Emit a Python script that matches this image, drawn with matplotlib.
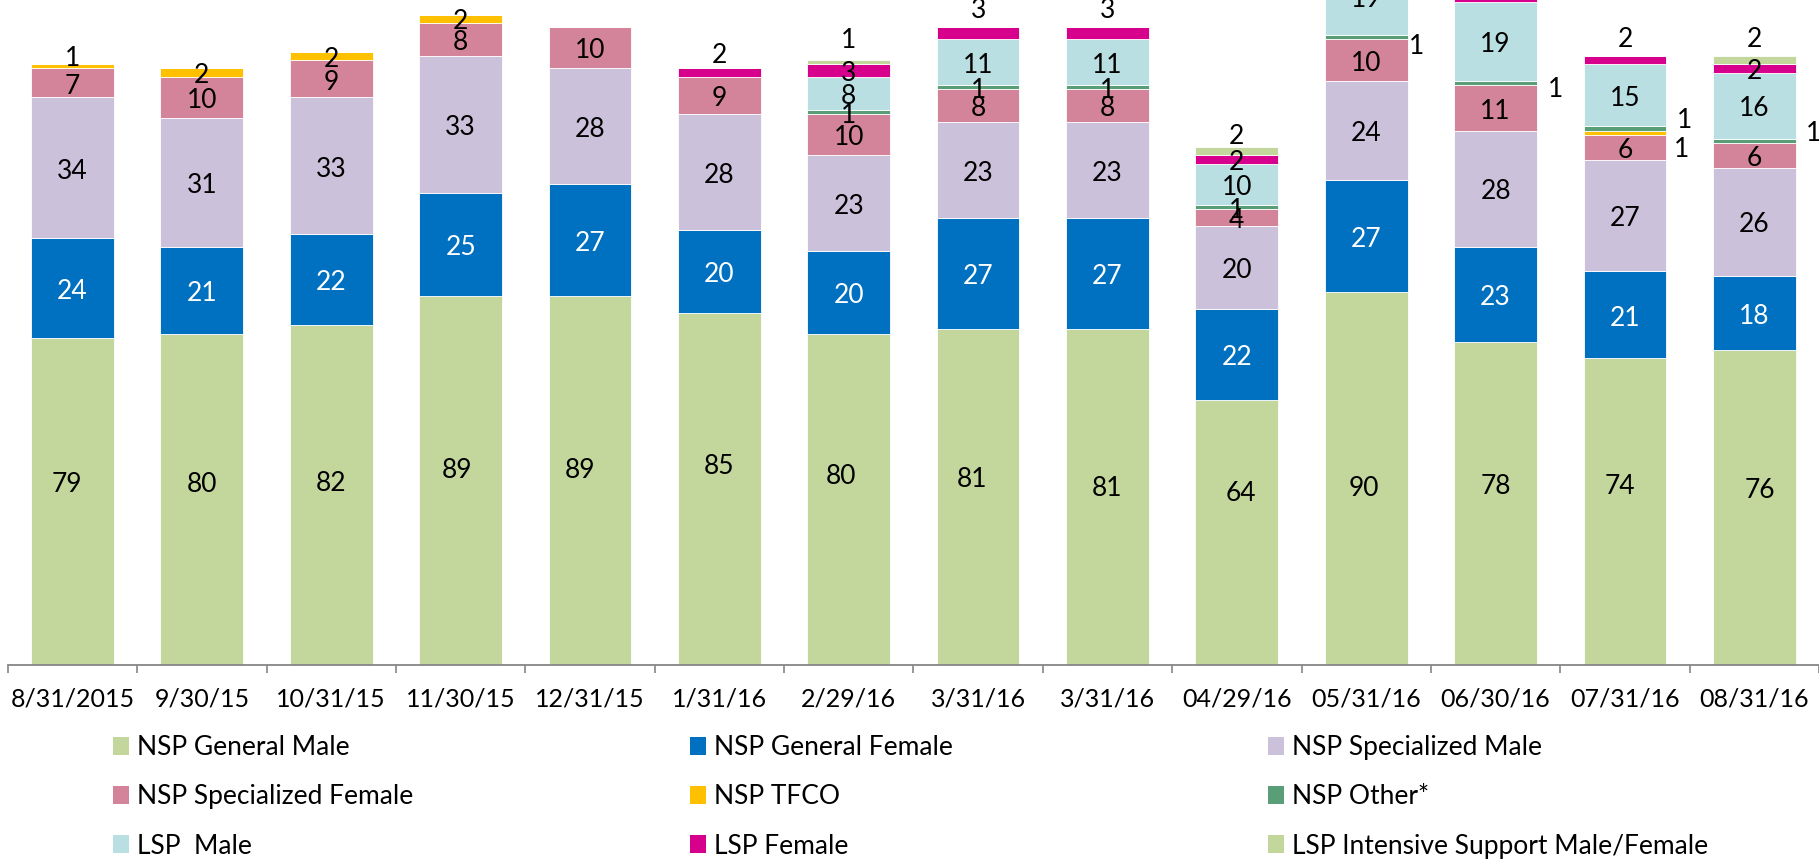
import matplotlib
matplotlib.use("Agg")
import matplotlib.pyplot as plt
from matplotlib.patches import Patch
import numpy as np

plt.rcParams['font.family'] = ['Lato', 'DejaVu Sans']

categories = ["8/31/2015", "9/30/15", "10/31/15", "11/30/15", "12/31/15", "1/31/16", "2/29/16",
              "3/31/16", "3/31/16", "04/29/16", "05/31/16", "06/30/16", "07/31/16", "08/31/16"]
series_names = ["NSP General Male", "NSP General Female", "NSP Specialized Male",
                "NSP Specialized Female", "NSP TFCO", "NSP Other*", "LSP  Male", "LSP Female",
                "LSP Intensive Support Male/Female"]
nsp_general_male = [79, 80, 82, 89, 89, 85, 80, 81, 81, 64, 90, 78, 74, 76]
nsp_general_female = [24, 21, 22, 25, 27, 20, 20, 27, 27, 22, 27, 23, 21, 18]
nsp_specialized_male = [34, 31, 33, 33, 28, 28, 23, 23, 23, 20, 24, 28, 27, 26]
nsp_specialized_female = [7, 10, 9, 8, 10, 9, 10, 8, 8, 4, 10, 11, 6, 6]
nsp_tfco = [1, 2, 2, 2, 0, 0, 0, 0, 0, 0, 0, 0, 1, 0]
nsp_other = [0, 0, 0, 0, 0, 0, 1, 1, 1, 1, 1, 1, 1, 1]
lsp_male = [0, 0, 0, 0, 0, 0, 8, 11, 11, 10, 19, 19, 15, 16]
lsp_female = [0, 0, 0, 0, 0, 2, 3, 3, 3, 2, 3, 3, 2, 2]
lsp_intensive = [0, 0, 0, 0, 0, 0, 1, 0, 0, 2, 0, 0, 0, 2]

series = [nsp_general_male, nsp_general_female, nsp_specialized_male, nsp_specialized_female,
          nsp_tfco, nsp_other, lsp_male, lsp_female, lsp_intensive]
colors = ["#C3D69B", "#0070C0", "#CCC1DA", "#D4849A", "#FFC000", "#5A9E78", "#B9DFE3",
          "#D6008C", "#C3D69B"]
label_colors = ["black", "white"] + ["black"] * 7

# label offsets (series index, category index) -> (dx, dy) in data units
label_offsets = {
    (0, 0): (-0.04, 4.9), (0, 1): (0, 4.4), (0, 2): (0, 3.7), (0, 3): (-0.03, 3.2),
    (0, 4): (-0.08, 3.2), (0, 5): (0, 6.2), (0, 6): (-0.06, 6.3), (0, 7): (-0.05, 5.0),
    (0, 8): (0, 3.0), (0, 9): (0.03, 10.3), (0, 10): (-0.02, -1.7), (0, 11): (0, 4.9),
    (0, 12): (-0.04, 6.9), (0, 13): (0.04, 4.8),
    (4, 0): (0, 2.6), (7, 5): (0, 5.0), (8, 6): (0, 6.0), (7, 7): (0, 6.3),
    (7, 8): (0, 6.3), (8, 9): (0, 4.3), (5, 10): (0.39, -1.4), (7, 10): (0, 6.0),
    (5, 11): (0.46, -0.7), (7, 11): (0, 6.0), (4, 12): (0.44, -3.3), (5, 12): (0.46, 2.7),
    (7, 12): (0, 5.8), (5, 13): (0.46, 2.6), (8, 13): (0, 5.8),
}
baseline_shift = -0.8

W, H = 1819, 859
fig = plt.figure(figsize=(W / 100, H / 100), dpi=100)
ax = fig.add_axes([7.8 / W, 1 - 665 / H, 1 - 7.8 / W, 665 / H])

x = np.arange(len(categories))
bottom = np.zeros(len(categories))
width = 0.64
for si, (vals, col) in enumerate(zip(series, colors)):
    vals = np.array(vals, dtype=float)
    ax.bar(x, vals, width, bottom=bottom, color=col, edgecolor="white", linewidth=0.6,
           label=series_names[si])
    for ci, v in enumerate(vals):
        if v <= 0:
            continue
        dx, dy = label_offsets.get((si, ci), (0, 0))
        ax.text(x[ci] + dx, bottom[ci] + v / 2 + dy + baseline_shift, f"{int(v)}",
                ha="center", va="center", fontsize=19, color=label_colors[si], clip_on=False)
    bottom += vals

ax.set_xlim(-0.5, len(categories) - 0.5)
ax.set_ylim(0, 160.5)
for s in ["top", "left", "right"]:
    ax.spines[s].set_visible(False)
ax.spines["bottom"].set_color("#868686")
ax.spines["bottom"].set_linewidth(1.3)
ax.set_yticks([])
ax.set_xticks(x)
ax.set_xticklabels(categories, fontsize=18)
ax.tick_params(axis="x", which="major", length=0, pad=16)
ax.set_xticks(np.arange(-0.5, len(categories)), minor=True)
ax.tick_params(axis="x", which="minor", length=6, width=1.2, color="#868686", direction="out")

# legend: three columns laid out row-wise
col_groups = [[0, 3, 6], [1, 4, 7], [2, 5, 8]]
col_x = [113, 690, 1268]
for grp, cx in zip(col_groups, col_x):
    handles = [Patch(facecolor=colors[i], edgecolor="none") for i in grp]
    labels = [series_names[i] for i in grp]
    fig.legend(handles, labels, loc="upper left", bbox_to_anchor=(cx / W, 1 - 735 / H),
               frameon=False, fontsize=19, borderpad=0, borderaxespad=0,
               handlelength=0.62, handleheight=0.65, handletextpad=0.3,
               labelspacing=0.92)

fig.savefig("out.png", dpi=100)
